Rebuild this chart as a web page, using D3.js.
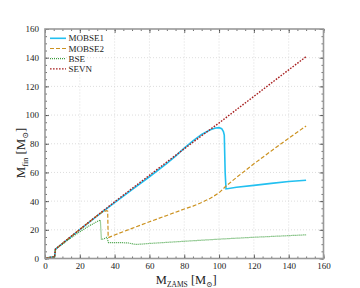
<!DOCTYPE html>
<meta charset="utf-8">
<style>
  body { margin: 0; background: #fff; }
  text { font-family: "Liberation Serif", "DejaVu Serif", serif; fill: #222; }
</style>
<body>
<script src="https://cdn.jsdelivr.net/npm/d3@7"></script>
<script>
// values (M_ZAMS, M_fin)
var lowX = [0.8, 3, 5.5];
var lowY = [0.3, 0.8, 1.2];

var sevnX = [6, 10, 20, 30, 40, 50, 60, 70, 80, 90, 100, 110, 120, 130, 140, 150];
var sevnY = [6.5, 10.5, 20.3, 30, 39.5, 48.8, 58, 67.3, 76.5, 85.6, 94.5, 103.8, 113, 122.3, 131.5, 140.7];

var mobse1X = [6, 10, 20, 30, 40, 50, 60, 70, 75, 80, 85, 90, 95, 98, 100, 101.5, 102.5, 103, 103.5, 104, 110, 120, 130, 140, 150];
var mobse1Y = [6.5, 10.4, 20.1, 29.7, 38.9, 48, 57, 66.3, 71.4, 77, 82, 86.5, 89.8, 91, 91.2, 90.5, 88.5, 86, 60, 48.5, 49.7, 51, 52.4, 53.7, 54.6];

var mobse2X = [6, 10, 20, 30, 33, 35.5, 36, 36.3, 40, 50, 60, 70, 80, 85, 90, 95, 100, 104, 110, 120, 130, 140, 150];
var mobse2Y = [6.5, 10.5, 20.3, 30, 32.4, 33.3, 33, 14.5, 16.4, 21, 25.6, 30, 34.5, 36.5, 39, 42, 45.8, 50.5, 56.5, 66, 75, 83.8, 92.4];

var bseX = [6, 10, 15, 20, 25, 30, 31.8, 32.4, 34, 35.5, 36.5, 40, 45, 48, 52, 55, 60, 80, 100, 120, 150];
var bseY = [6.5, 10, 14.5, 18.6, 22.5, 25.8, 26.8, 13.2, 13.8, 14.8, 11, 11, 11, 10.8, 9.8, 10, 10.5, 12, 13.5, 14.8, 16.5];

var xTicks = [0, 20, 40, 60, 80, 100, 120, 140, 160];
var yTicks = [0, 20, 40, 60, 80, 100, 120, 140, 160];

var series = [
  { name: "MOBSE1", xs: mobse1X, ys: mobse1Y, color: "#22c0f0", width: 1.6, dash: null },
  { name: "MOBSE2", xs: mobse2X, ys: mobse2Y, color: "#cc9220", width: 1.2, dash: "4,2" },
  { name: "BSE", xs: bseX, ys: bseY, color: "#3c9e3c", width: 1.2, dash: "1,1" },
  { name: "SEVN", xs: sevnX, ys: sevnY, color: "#a82020", width: 1.4, dash: "1.6,1.4" }
];

var width = 360, height = 288;
var margin = { left: 45, right: 36.5, top: 29, bottom: 29.5 };

var svg = d3.select("body").append("svg")
  .attr("width", width)
  .attr("height", height);

var x = d3.scaleLinear().domain([0, 160]).range([margin.left, width - margin.right]);
var y = d3.scaleLinear().domain([0, 160]).range([height - margin.bottom, margin.top]);

// grid
svg.append("g").selectAll("line").data(xTicks.slice(1, -1)).enter().append("line")
  .attr("x1", function(d) { return x(d); }).attr("x2", function(d) { return x(d); })
  .attr("y1", y(0)).attr("y2", y(160))
  .attr("stroke", "#d4d4d4").attr("stroke-width", 0.8).attr("stroke-dasharray", "1,2");
svg.append("g").selectAll("line").data(yTicks.slice(1, -1)).enter().append("line")
  .attr("y1", function(d) { return y(d); }).attr("y2", function(d) { return y(d); })
  .attr("x1", x(0)).attr("x2", x(160))
  .attr("stroke", "#d4d4d4").attr("stroke-width", 0.8).attr("stroke-dasharray", "1,2");

// data lines
var line = d3.line()
  .x(function(d) { return x(d[0]); })
  .y(function(d) { return y(d[1]); });

series.forEach(function(s) {
  var pts = lowX.map(function(v, i) { return [v, lowY[i]]; })
    .concat(s.xs.map(function(v, i) { return [v, s.ys[i]]; }));
  svg.append("path")
    .attr("d", line(pts))
    .attr("fill", "none")
    .attr("stroke", s.color)
    .attr("stroke-width", s.width)
    .attr("stroke-dasharray", s.dash);
});

// axes, ticks inward on all four sides
function styleAxis(g) {
  g.select(".domain").remove();
  g.selectAll(".tick line").attr("stroke", "#333").attr("stroke-width", 0.7);
  g.selectAll("text").style("font-size", "9px").attr("fill", "#222");
}
var minor = d3.range(0, 161, 5);

svg.append("g").attr("transform", "translate(0," + y(0) + ")")
  .call(d3.axisBottom(x).tickValues(minor).tickSize(-2).tickFormat(""))
  .call(styleAxis);
svg.append("g").attr("transform", "translate(0," + y(0) + ")")
  .call(d3.axisBottom(x).tickValues(xTicks).tickSize(-4).tickPadding(4).tickFormat(d3.format("d")))
  .call(styleAxis);
svg.append("g").attr("transform", "translate(0," + y(160) + ")")
  .call(d3.axisTop(x).tickValues(minor).tickSize(-2).tickFormat(""))
  .call(styleAxis);
svg.append("g").attr("transform", "translate(0," + y(160) + ")")
  .call(d3.axisTop(x).tickValues(xTicks).tickSize(-4).tickFormat(""))
  .call(styleAxis);

svg.append("g").attr("transform", "translate(" + x(0) + ",0)")
  .call(d3.axisLeft(y).tickValues(minor).tickSize(-2).tickFormat(""))
  .call(styleAxis);
svg.append("g").attr("transform", "translate(" + x(0) + ",0)")
  .call(d3.axisLeft(y).tickValues(yTicks).tickSize(-4).tickPadding(6).tickFormat(d3.format("d")))
  .call(styleAxis);
svg.append("g").attr("transform", "translate(" + x(160) + ",0)")
  .call(d3.axisRight(y).tickValues(minor).tickSize(-2).tickFormat(""))
  .call(styleAxis);
svg.append("g").attr("transform", "translate(" + x(160) + ",0)")
  .call(d3.axisRight(y).tickValues(yTicks).tickSize(-4).tickFormat(""))
  .call(styleAxis);

// frame
svg.append("rect")
  .attr("x", x(0)).attr("y", y(160))
  .attr("width", x(160) - x(0)).attr("height", y(0) - y(160))
  .attr("fill", "none").attr("stroke", "#999").attr("stroke-width", 1.6);

// axis labels
var xl = svg.append("text")
  .attr("x", (x(0) + x(160)) / 2 + 2).attr("y", 283.5)
  .attr("text-anchor", "middle").style("font-size", "12.5px");
xl.append("tspan").text("M");
xl.append("tspan").attr("dy", 3).style("font-size", "7.5px").text("ZAMS");
xl.append("tspan").attr("dy", -3).text(" [M");
xl.append("tspan").attr("dy", 3).style("font-size", "7.5px").text("⊙");
xl.append("tspan").attr("dy", -3).text("]");

var yl = svg.append("text")
  .attr("transform", "translate(25," + 153 + ") rotate(-90)")
  .attr("text-anchor", "middle").style("font-size", "13px");
yl.append("tspan").text("M");
yl.append("tspan").attr("dy", 3).style("font-size", "8px").text("fin");
yl.append("tspan").attr("dy", -3).text(" [M");
yl.append("tspan").attr("dy", 3).style("font-size", "8px").text("⊙");
yl.append("tspan").attr("dy", -3).text("]");

// legend
var legend = svg.append("g").selectAll("g").data(series).enter().append("g")
  .attr("transform", function(d, i) { return "translate(50," + (38.3 + i * 10.2) + ")"; });
legend.append("line")
  .attr("x1", 0).attr("x2", 16)
  .attr("stroke", function(d) { return d.color; })
  .attr("stroke-width", function(d) { return d.width; })
  .attr("stroke-dasharray", function(d) { return d.dash; });
legend.append("text")
  .attr("x", 18.5).attr("y", 3)
  .style("font-size", "9px")
  .text(function(d) { return d.name; });
</script>
</body>
